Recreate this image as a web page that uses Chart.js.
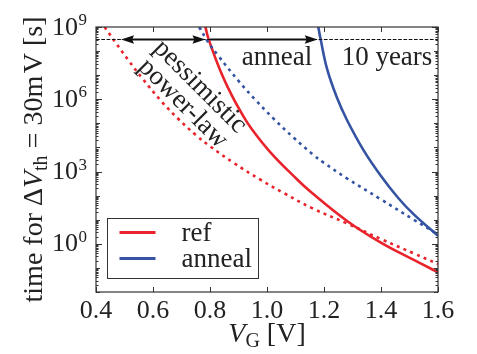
<!DOCTYPE html>
<html>
<head>
<meta charset="utf-8">
<script src="https://cdn.jsdelivr.net/npm/chart.js@4.4.1/dist/chart.umd.min.js"></script>
<style>
html,body{margin:0;padding:0;background:#fff;}
#wrap{width:477px;height:354px;position:relative;}
</style>
</head>
<body>
<div id="wrap"><canvas id="c" width="477" height="354"></canvas></div>
<script>
// ---------------- data ----------------
const seriesLabels = ['ref', 'anneal'];
// ref model (solid red)
const refX = [0.784, 0.795, 0.836, 0.877, 0.912, 0.942, 1.012, 1.105, 1.152, 1.281, 1.398, 1.515, 1.600];
const refY = [1e9, 3.16e8, 1.58e7, 1.41e6, 2.51e5, 6.9e4, 6.3e3, 479, 148, 8.9, 1.15, 0.214, 0.066];
// ref pessimistic power-law (dotted red)
const refPlX = [0.430, 0.470, 0.515, 0.561, 0.632, 0.690, 0.750, 0.800, 0.883, 0.977, 1.060, 1.160, 1.280, 1.400, 1.515, 1.600];
const refPlY = [1e9, 2.14e8, 3.98e7, 7.76e6, 7.59e5, 1.48e5, 3.31e4, 1.12e4, 2.29e3, 457, 126, 29.5, 7.1, 1.58, 0.40, 0.145];
// anneal model (solid blue)
const annX = [1.180, 1.188, 1.211, 1.246, 1.281, 1.339, 1.398, 1.462, 1.515, 1.600];
const annY = [1e9, 3.16e8, 1.78e7, 1.12e6, 1.35e5, 7.6e3, 708, 76, 16.6, 2.14];
// anneal pessimistic power-law (dotted blue)
const annPlX = [0.762, 0.792, 0.830, 0.901, 0.959, 1.023, 1.094, 1.163, 1.199, 1.280, 1.398, 1.515, 1.600];
const annPlY = [1e9, 2.51e8, 6.17e7, 5.62e6, 9.55e5, 1.58e5, 2.51e4, 4.9e3, 2.34e3, 525, 72, 10, 2.5];

// axes
const xTickValues = [0.4, 0.6, 0.8, 1.0, 1.2, 1.4, 1.6];
const yTickExponents = [0, 3, 6, 9];
const xRange = [0.4, 1.6];
const yRange = [1e-2, 1e9];

// annotations
const tenYears = 3.15e8;
const arrowFrom = [0.488, 0.800];
const arrowTo   = [0.784, 1.178];
const arrowBothEnds = [true, false];
const noteTexts = ['anneal', '10 years'];
const noteX = [1.035, 1.421];
const noteY = [2.57e7, 2.57e7];
const rotTexts = ['pessimistic', 'power-law'];
const rotAnchorX = 0.735;
const rotAnchorY = 1.48e6;
const rotAngleDeg = 45;

// ---------------- styling ----------------
const FONT = "'Liberation Serif', 'DejaVu Serif', serif";
const RED = '#e8232b', BLUE = '#3453a3', INK = '#222';

function pts(xs, ys){ return xs.map((v,i)=>({x:v, y:ys[i]})); }

const datasets = [
  {label:'ref power-law', data:pts(refPlX, refPlY), borderColor:RED, borderDash:[3,4.3], borderWidth:2.6},
  {label:'anneal power-law', data:pts(annPlX, annPlY), borderColor:BLUE, borderDash:[3,4.3], borderWidth:2.6},
  {label:seriesLabels[0], data:pts(refX, refY), borderColor:RED, borderWidth:2.6},
  {label:seriesLabels[1], data:pts(annX, annY), borderColor:BLUE, borderWidth:2.6}
].map(d=>Object.assign({pointRadius:0, fill:false, tension:0.4, clip:0, borderCapStyle:'butt'}, d));

const decor = {
  id:'decor',
  afterDatasetsDraw(chart){
    const {ctx, chartArea:ca, scales:{x, y}} = chart;
    ctx.save();
    // 10-year dashed line
    const yy = Math.round(y.getPixelForValue(tenYears)) + 0.5;
    ctx.strokeStyle = '#111'; ctx.lineWidth = 1; ctx.setLineDash([3.7, 1.6]);
    ctx.beginPath(); ctx.moveTo(ca.left, yy); ctx.lineTo(ca.right, yy); ctx.stroke();
    ctx.setLineDash([]);
    // arrows
    const L = 13, W = 4.2;
    ctx.fillStyle = '#111'; ctx.strokeStyle = '#111'; ctx.lineWidth = 2;
    const head = (tip, dir) => {
      ctx.beginPath(); ctx.moveTo(tip, yy);
      ctx.lineTo(tip - dir*L, yy - W); ctx.lineTo(tip - dir*L*0.85, yy); ctx.lineTo(tip - dir*L, yy + W);
      ctx.closePath(); ctx.fill();
    };
    for (let i=0;i<arrowFrom.length;i++){
      const a = x.getPixelForValue(arrowFrom[i]), b = x.getPixelForValue(arrowTo[i]);
      ctx.beginPath(); ctx.moveTo(arrowBothEnds[i] ? a + 6 : a, yy); ctx.lineTo(b - 6, yy); ctx.stroke();
      head(b, 1);
      if (arrowBothEnds[i]) head(a, -1);
    }
    // texts
    ctx.fillStyle = INK; ctx.font = '27px ' + FONT; ctx.textAlign = 'center'; ctx.textBaseline = 'alphabetic';
    for (let i=0;i<noteTexts.length;i++){
      ctx.fillText(noteTexts[i], x.getPixelForValue(noteX[i]), y.getPixelForValue(noteY[i]));
    }
    // rotated texts
    ctx.save();
    ctx.translate(x.getPixelForValue(rotAnchorX), y.getPixelForValue(rotAnchorY));
    ctx.rotate(rotAngleDeg*Math.PI/180);
    ctx.textBaseline = 'middle';
    const sp = 24;
    rotTexts.forEach((t,i)=>{ ctx.fillText(t, 0, (i - (rotTexts.length-1)/2)*sp); });
    ctx.restore();
    ctx.restore();
  },
  afterDraw(chart){
    const {ctx, chartArea:ca, scales:{x, y}} = chart;
    ctx.save();
    ctx.strokeStyle = '#333'; ctx.lineWidth = 1.2;
    // frame
    ctx.strokeRect(ca.left, ca.top, ca.right-ca.left, ca.bottom-ca.top);
    // x ticks (inward, top and bottom)
    ctx.lineWidth = 1;
    ctx.beginPath();
    xTickValues.forEach(v=>{
      const px = Math.round(x.getPixelForValue(v)) + 0.5;
      ctx.moveTo(px, ca.bottom); ctx.lineTo(px, ca.bottom - 5);
      ctx.moveTo(px, ca.top); ctx.lineTo(px, ca.top + 5);
    });
    // y ticks
    const lo = Math.log10(yRange[0]), hi = Math.log10(yRange[1]);
    for (let e = lo; e <= hi; e++){
      for (let m = 1; m <= 9; m++){
        const v = m * Math.pow(10, e);
        if (v > yRange[1]*1.0001) break;
        const py = Math.round(y.getPixelForValue(v)) + 0.5;
        const major = (m === 1) && yTickExponents.includes(e);
        const len = major ? 6 : (m === 1 ? 4 : 2.5);
        ctx.moveTo(ca.left, py); ctx.lineTo(ca.left + len, py);
        ctx.moveTo(ca.right, py); ctx.lineTo(ca.right - len, py);
      }
    }
    ctx.stroke();
    // y tick labels 10^n
    ctx.fillStyle = INK; ctx.textBaseline = 'alphabetic'; ctx.textAlign = 'left';
    yTickExponents.forEach(e=>{
      const py = y.getPixelForValue(Math.pow(10, e));
      ctx.font = '17px ' + FONT;
      const ew = ctx.measureText(String(e)).width;
      ctx.font = '26px ' + FONT;
      const bw = ctx.measureText('10').width;
      const right = ca.left - 9;
      ctx.fillText('10', right - ew - bw - 0.5, py + 7.5);
      ctx.font = '17px ' + FONT;
      ctx.fillText(String(e), right - ew, py - 2);
    });
    // y axis title (rotated)
    ctx.save();
    ctx.translate(42, (ca.top + ca.bottom)/2);
    ctx.rotate(-Math.PI/2);
    const parts = [
      {t:'time for \u0394', f:'28px '+FONT, dy:0, gap:0},
      {t:'V', f:'italic 28px '+FONT, dy:0, gap:0},
      {t:'th', f:'20px '+FONT, dy:5, gap:0},
      {t:' = 30m', f:'28px '+FONT, dy:0, gap:2.5},
      {t:'V [s]', f:'28px '+FONT, dy:0, gap:0}
    ];
    let tot = 0; parts.forEach(p=>{ ctx.font = p.f; p.w = ctx.measureText(p.t).width + p.gap; tot += p.w; });
    let cx = -tot/2;
    parts.forEach(p=>{ ctx.font = p.f; ctx.fillText(p.t, cx, p.dy); cx += p.w; });
    ctx.restore();
    // x axis title
    const xparts = [
      {t:'V', f:'italic 28px '+FONT, dy:0},
      {t:'G', f:'20px '+FONT, dy:5},
      {t:' [V]', f:'28px '+FONT, dy:0}
    ];
    tot = 0; xparts.forEach(p=>{ ctx.font = p.f; p.w = ctx.measureText(p.t).width; tot += p.w; });
    cx = (ca.left + ca.right)/2 - tot/2;
    xparts.forEach(p=>{ ctx.font = p.f; ctx.fillText(p.t, cx, 342 + p.dy); cx += p.w; });
    // legend
    const lx = ca.left + 11.5, ly = ca.top + 191.5, lw = 151, lh = 60;
    ctx.fillStyle = '#fff'; ctx.fillRect(lx, ly, lw, lh);
    ctx.strokeStyle = '#333'; ctx.lineWidth = 1; ctx.strokeRect(lx, ly, lw, lh);
    const entries = chart.data.datasets.filter(d => seriesLabels.includes(d.label));
    entries.forEach((d,i)=>{
      const cy = ly + 14 + i*26;
      ctx.strokeStyle = d.borderColor; ctx.lineWidth = 2.8; ctx.setLineDash([]);
      ctx.beginPath(); ctx.moveTo(lx + 12, cy); ctx.lineTo(lx + 48, cy); ctx.stroke();
      ctx.fillStyle = INK; ctx.font = '27px ' + FONT; ctx.textAlign = 'left'; ctx.textBaseline = 'alphabetic';
      ctx.fillText(d.label, lx + 74, cy + 8.5);
    });
    ctx.restore();
  }
};

new Chart(document.getElementById('c'), {
  type:'line',
  data:{datasets},
  options:{
    responsive:false, animation:false, devicePixelRatio:1,
    layout:{padding:{top:27, right:39, left:0, bottom:0}},
    plugins:{legend:{display:false}, tooltip:{enabled:false}},
    scales:{
      x:{
        type:'linear', min:xRange[0], max:xRange[1],
        afterBuildTicks: s => { s.ticks = xTickValues.map(v=>({value:v})); },
        afterFit: s => { s.height = 62; },
        grid:{display:false, drawTicks:false}, border:{display:false},
        ticks:{color:INK, font:{family:FONT, size:26}, padding:4, maxRotation:0, autoSkip:false,
               callback: v => Number(v).toFixed(1)}
      },
      y:{
        type:'logarithmic', min:yRange[0], max:yRange[1],
        afterBuildTicks: s => { s.ticks = yTickExponents.map(e=>({value:Math.pow(10,e)})); },
        afterFit: s => { s.width = 96; },
        grid:{display:false, drawTicks:false}, border:{display:false},
        ticks:{display:false}
      }
    }
  },
  plugins:[decor]
});
</script>
</body>
</html>
